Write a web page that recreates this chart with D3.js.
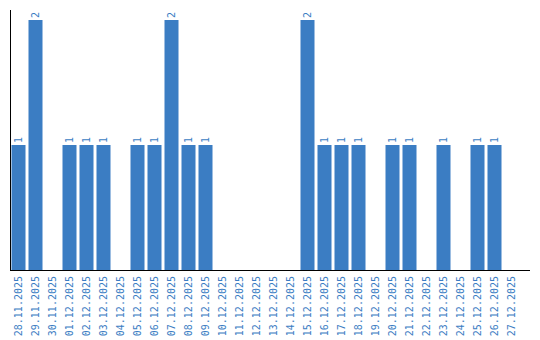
<!DOCTYPE html>
<html><head><meta charset="utf-8">
<script src="https://cdn.jsdelivr.net/npm/d3@7"></script>
<style>html,body{margin:0;padding:0;background:#fff;}</style>
</head><body>
<script>
const dates = ["28.11.2025","29.11.2025","30.11.2025","01.12.2025","02.12.2025","03.12.2025","04.12.2025","05.12.2025","06.12.2025","07.12.2025","08.12.2025","09.12.2025","10.12.2025","11.12.2025","12.12.2025","13.12.2025","14.12.2025","15.12.2025","16.12.2025","17.12.2025","18.12.2025","19.12.2025","20.12.2025","21.12.2025","22.12.2025","23.12.2025","24.12.2025","25.12.2025","26.12.2025","27.12.2025"];
const counts = [1,2,0,1,1,1,0,1,1,2,1,1,0,0,0,0,0,2,1,1,1,0,1,1,0,1,0,1,1,0];

const W = 540, H = 340;
const color = "#3b7dc3";
const font = "DejaVu Sans Mono";

const svg = d3.select("body").append("svg").attr("width", W).attr("height", H);

const x = d3.scaleBand().domain(dates).range([10, 520]).paddingInner(3/17).paddingOuter(1.5/17);
const y = d3.scaleLinear().domain([0, 2]).range([270, 20]);

const data = dates.map((d, i) => ({d, v: counts[i]}));

svg.append("g").selectAll("rect").data(data.filter(o => o.v > 0)).join("rect")
  .attr("x", o => x(o.d)).attr("width", x.bandwidth())
  .attr("y", o => y(o.v)).attr("height", o => y(0) - y(o.v))
  .attr("fill", color);

svg.append("g").selectAll("text").data(data.filter(o => o.v > 0)).join("text")
  .attr("transform", o => `translate(${x(o.d) + x.bandwidth()/2},${y(o.v) - 2}) rotate(-90)`)
  .attr("dy", "0.35em")
  .attr("text-anchor", "start")
  .attr("font-family", font).attr("font-size", 10)
  .attr("fill", color)
  .text(o => o.v);

// x axis
const xAxis = svg.append("g").attr("transform", "translate(0,270)")
  .call(d3.axisBottom(x).tickSize(0).tickPadding(0));
xAxis.select(".domain").remove();
xAxis.selectAll("text")
  .attr("font-family", font).attr("font-size", 10).attr("fill", color)
  .attr("text-anchor", "end")
  .attr("transform", "rotate(-90)")
  .attr("x", -6).attr("y", 0).attr("dy", "0.35em");

svg.append("line").attr("x1", 10).attr("x2", 530).attr("y1", 270.5).attr("y2", 270.5)
  .attr("stroke", "#000").attr("stroke-width", 1);
svg.append("line").attr("x1", 10.5).attr("x2", 10.5).attr("y1", 10).attr("y2", 271)
  .attr("stroke", "#000").attr("stroke-width", 1);
</script>
</body></html>
